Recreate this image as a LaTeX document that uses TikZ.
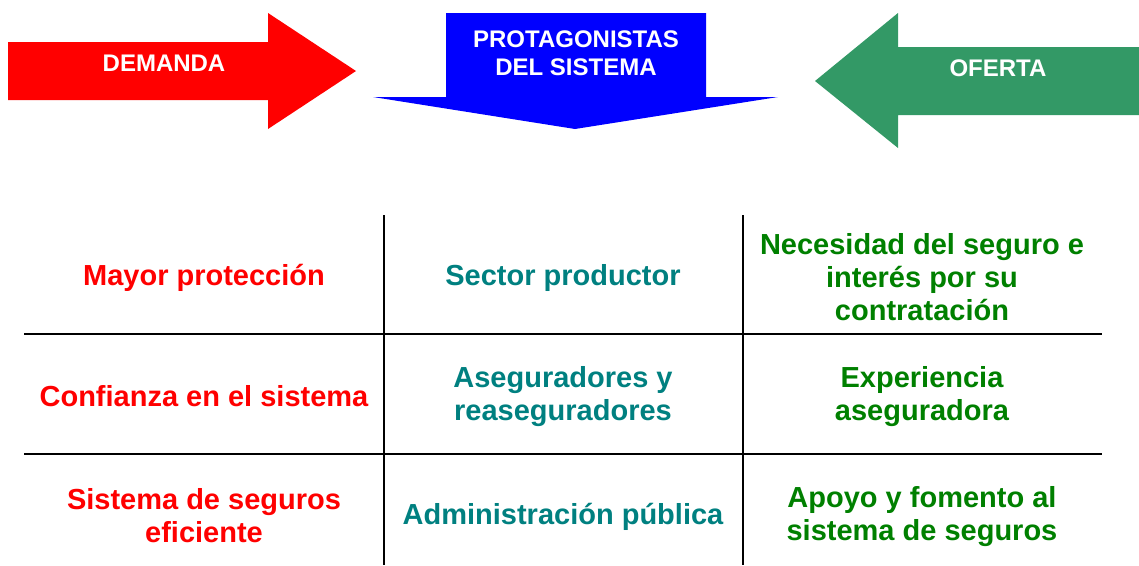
\documentclass[tikz,border=0pt]{standalone}
\usepackage{fontspec}
\setmainfont{Liberation Sans}
\definecolor{arrred}{RGB}{255,0,0}
\definecolor{arrblue}{RGB}{0,0,255}
\definecolor{arrgreen}{RGB}{51,153,102}
\definecolor{txtred}{RGB}{255,0,0}
\definecolor{txtteal}{RGB}{0,128,128}
\definecolor{txtgreen}{RGB}{0,128,0}
\begin{document}
\begin{tikzpicture}[x=1pt,y=-1pt,
  arrlabel/.style={text=white,font=\bfseries\fontsize{24}{28.5}\selectfont,align=center,inner sep=0pt},
  cell/.style={font=\bfseries\fontsize{29}{33}\selectfont,align=center,inner sep=0pt},
  grid/.style={line width=2pt,black}]
\useasboundingbox (0,0) rectangle (1139,565);
% arrows
\fill[arrred] (8,42) -- (268,42) -- (268,13) -- (356,71) -- (268,129) -- (268,100) -- (8,100) -- cycle;
\fill[arrblue] (446,13) -- (706,13) -- (706,97) -- (778,97) -- (575,129) -- (373,97) -- (446,97) -- cycle;
\fill[arrgreen] (1139,47) -- (898,47) -- (898,13) -- (815,81) -- (898,148) -- (898,115) -- (1139,115) -- cycle;
\node[arrlabel] (dem) at (164,63) {DEMANDA};
\node[arrlabel] (prot) at (576,53) {PROTAGONISTAS\\DEL SISTEMA};
\node[arrlabel] (ofe) at (998,68) {OFERTA};
% grid
\coordinate (v1t) at (384,215); \coordinate (v1b) at (384,565);
\coordinate (v2t) at (743,215); \coordinate (v2b) at (743,565);
\coordinate (h1l) at (24,334); \coordinate (h1r) at (1102,334);
\coordinate (h2l) at (24,454); \coordinate (h2r) at (1102,454);
\draw[grid] (v1t) -- (v1b);
\draw[grid] (v2t) -- (v2b);
\draw[grid] (h1l) -- (h1r);
\draw[grid] (h2l) -- (h2r);
% cells
\node[cell,text=txtred] (a1) at (204,278) {Mayor protección};
\node[cell,text=txtred] (a2) at (204,396) {Confianza en el sistema};
\node[cell,text=txtred] (a3) at (204,516) {Sistema de seguros\\eficiente};
\node[cell,text=txtteal] (b1) at (563,278) {Sector productor};
\node[cell,text=txtteal] (b2) at (563,397) {Aseguradores y\\reaseguradores};
\node[cell,text=txtteal] (b3) at (563,517) {Administración pública};
\node[cell,text=txtgreen] (c1) at (922,277) {Necesidad del seguro e\\interés por su\\contratación};
\node[cell,text=txtgreen] (c2) at (922,397) {Experiencia\\aseguradora};
\node[cell,text=txtgreen] (c3) at (922,517) {Apoyo y fomento al\\sistema de seguros};
\end{tikzpicture}
\end{document}
